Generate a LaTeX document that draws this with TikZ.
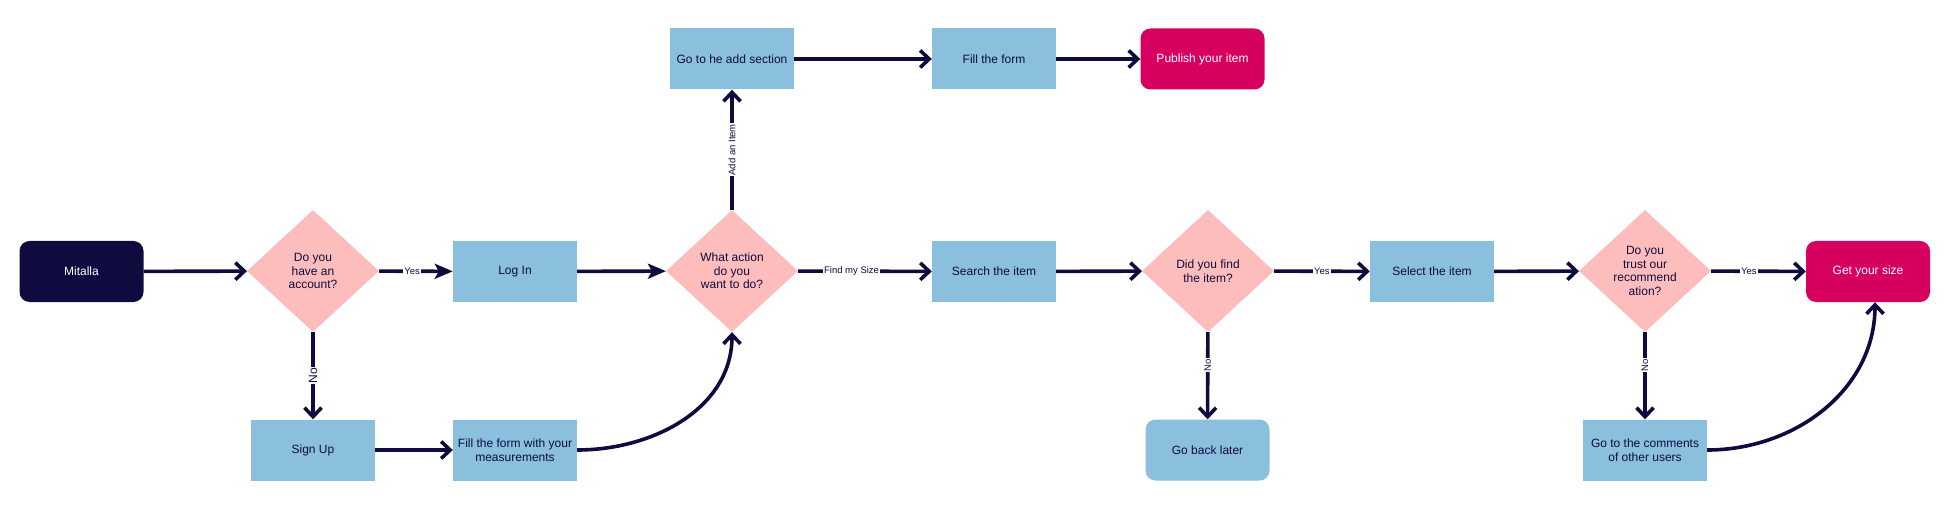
\documentclass[tikz,border=0pt]{standalone}
\usepackage{fontspec}
\setmainfont{Liberation Sans}
\usetikzlibrary{shapes.geometric,arrows.meta}
\definecolor{navy}{HTML}{0E0C3F}
\definecolor{boxblue}{HTML}{8ABFDD}
\definecolor{rosa}{HTML}{FDBDBC}
\definecolor{berry}{HTML}{D6005E}
\tikzset{box/.style={
    rectangle, fill=boxblue, text=navy,
    minimum width=124pt, minimum height=61pt,
    inner sep=2pt, align=center,
    font=\fontsize{12}{13.5}\selectfont
  },
  startbox/.style={box, fill=navy, text=white, rounded corners=10pt},
  endbox/.style={box, fill=berry, text=white, rounded corners=10pt},
  roundbox/.style={box, rounded corners=10pt},
  choice/.style={
    diamond, fill=rosa, text=navy,
    minimum width=132pt, minimum height=122pt,
    inner sep=0pt, align=center,
    font=\fontsize{12}{13.5}\selectfont
  },
  flow/.style={draw=navy, line width=3.6pt, -{Straight Barb[length=9pt,width=17pt]}},
  solid flow/.style={flow, -{Stealth[length=18pt,width=15pt,inset=4pt]}},
  tag/.style={fill=white, text=navy, inner sep=1pt, font=\fontsize{9.5}{9.5}\selectfont}
}
\begin{document}
\begin{tikzpicture}[x=1pt,y=1pt]
  \useasboundingbox (0,0) rectangle (1950,512);
  \node[startbox] (mitalla) at (81.5,240.5) {Mitalla};
  \node[choice] (account) at (313,241) {Do you\\have an\\account?};
  \node[box] (login) at (515,240.5) {Log In};
  \node[choice] (action) at (732,241) {What action\\do you\\want to do?};
  \node[box] (goadd) at (732,453) {Go to he add section};
  \node[box] (fillform) at (994,453) {Fill the form};
  \node[endbox] (publish) at (1202.5,453) {Publish your item};
  \node[box] (search) at (994,240.5) {Search the item};
  \node[choice] (found) at (1208,241) {Did you find\\the item?};
  \node[box] (select) at (1432,240.5) {Select the item};
  \node[choice] (trust) at (1645,241) {Do you\\trust our\\recommend\\ation?};
  \node[endbox] (getsize) at (1868,240.5) {Get your size};
  \node[box] (signup) at (313,62) {Sign Up};
  \node[box] (measure) at (515,62) {Fill the form with your\\measurements};
  \node[roundbox] (later) at (1207.5,62) {Go back later};
  \node[box] (comments) at (1645,62) {Go to the comments\\of other users};

  \draw[flow] (mitalla) -- (account);
  \draw[solid flow] (account) -- node[tag, pos=0.45] {Yes} (login);
  \draw[solid flow] (login) -- (action);
  \draw[flow] (account) -- node[tag, rotate=90, font=\fontsize{12}{12}\selectfont] {No} (signup);
  \draw[flow] (signup) -- (measure);
  \draw[flow] (measure.east) to[out=0, in=-90] (action.south);
  \draw[flow] (action) -- node[tag, rotate=90] {Add an Item} (goadd);
  \draw[flow] (goadd) -- (fillform);
  \draw[flow] (fillform) -- (publish);
  \draw[flow] (action) -- node[tag, pos=0.4] {Find my Size} (search);
  \draw[flow] (search) -- (found);
  \draw[flow] (found) -- node[tag] {Yes} (select);
  \draw[flow] (found) -- node[tag, rotate=90, pos=0.38] {No} (later);
  \draw[flow] (select) -- (trust);
  \draw[flow] (trust) -- node[tag, pos=0.4] {Yes} (getsize);
  \draw[flow] (trust) -- node[tag, rotate=90, pos=0.38] {No} (comments);
  \draw[flow] (comments.east) to[out=0, in=-90] ([xshift=7pt]getsize.south);
\end{tikzpicture}
\end{document}
